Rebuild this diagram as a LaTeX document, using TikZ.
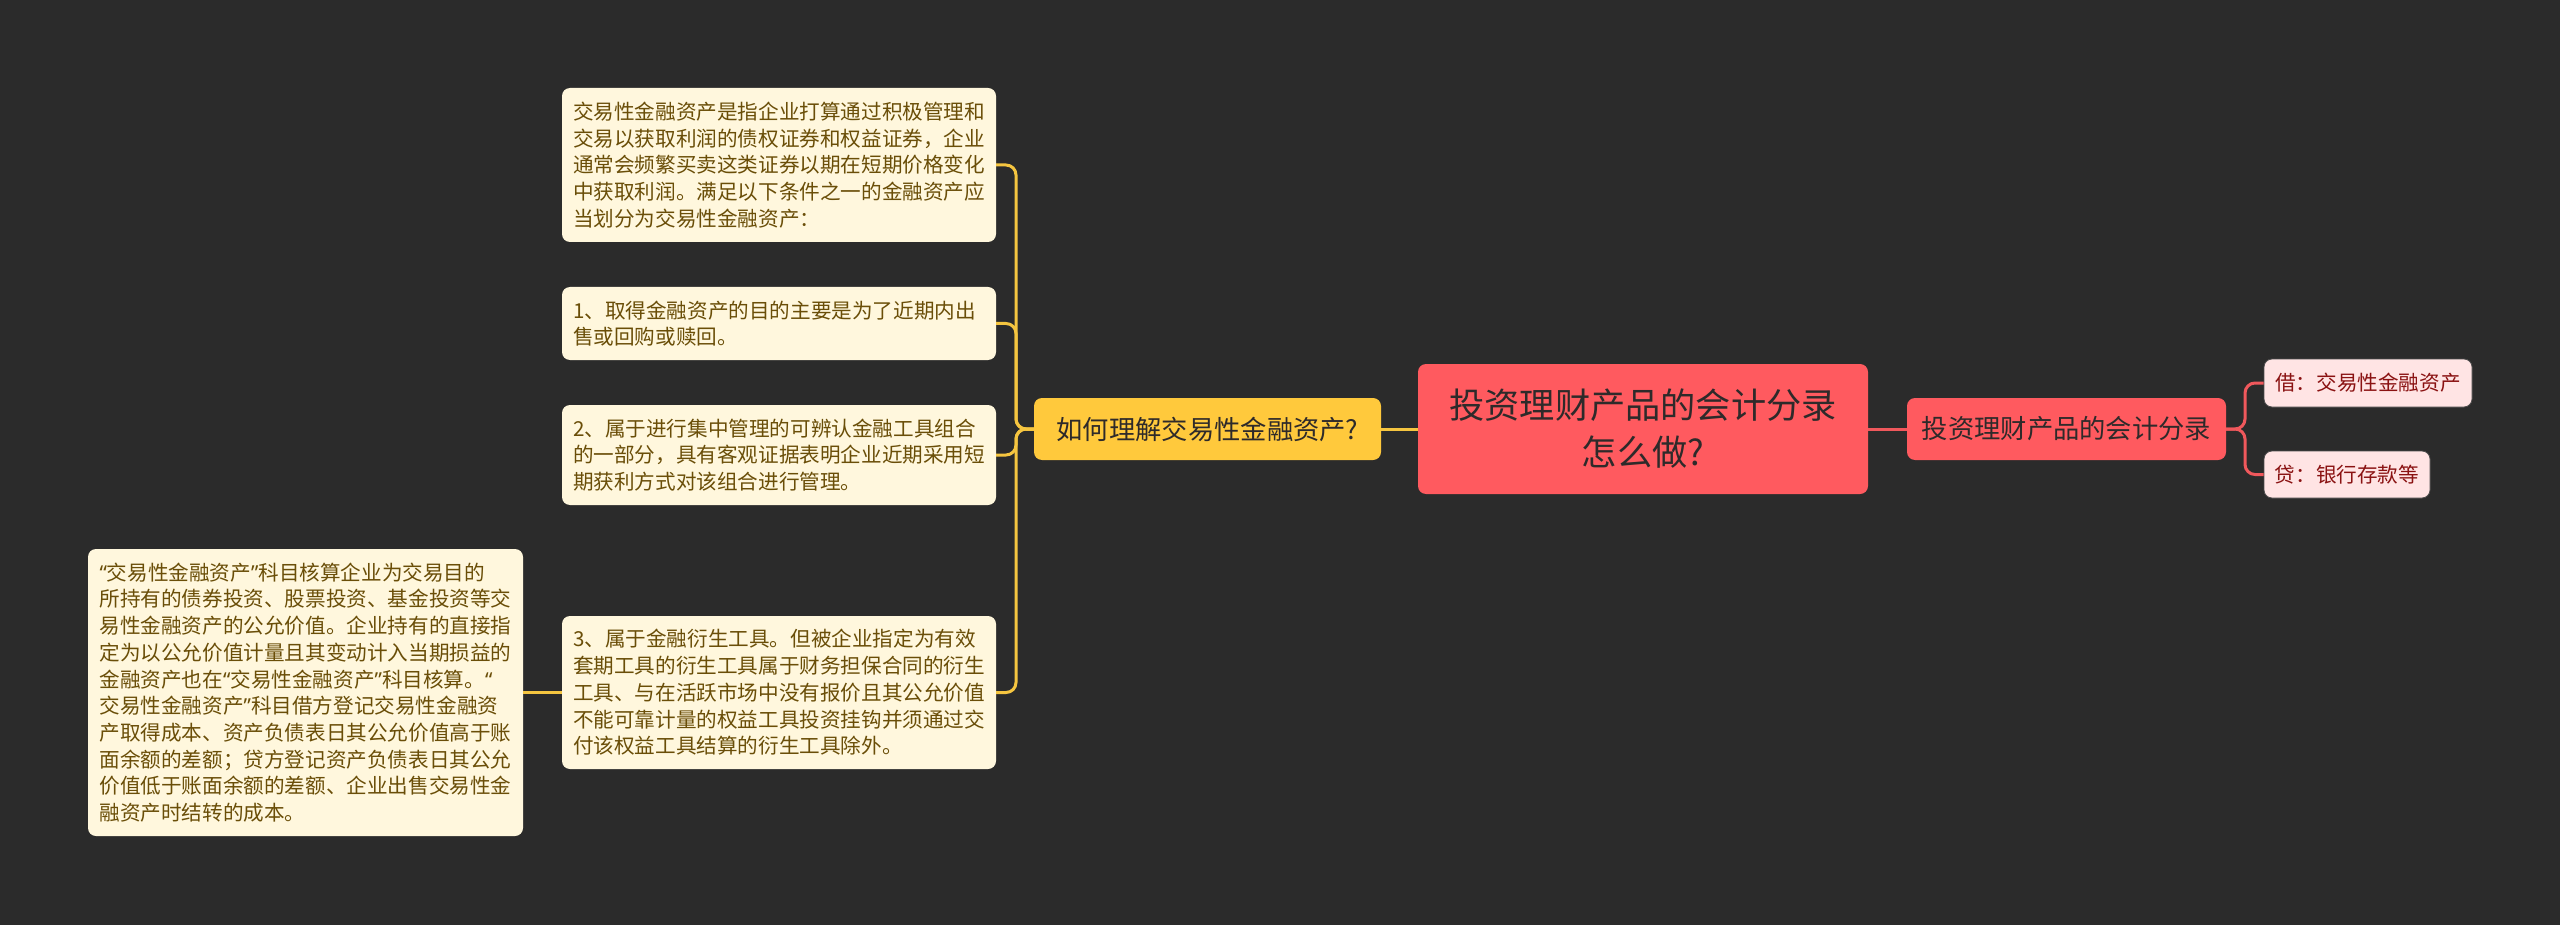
\documentclass[tikz,border=0pt]{standalone}
\usepackage{fontspec}
\newfontfamily\cjk{Noto Sans CJK SC}
\newfontfamily\latq{Noto Sans}
\newcommand{\myoq}{{\latq “}}
\newcommand{\mycq}{{\latq ”}}
\definecolor{bg}{HTML}{2B2B2B}
\definecolor{creamfill}{HTML}{FFF7DD}
\definecolor{creamtext}{HTML}{6A4E08}
\definecolor{yelfill}{HTML}{FFC93C}
\definecolor{yelline}{HTML}{F5C540}
\definecolor{redfill}{HTML}{FF5A5F}
\definecolor{redline}{HTML}{F0585C}
\definecolor{pinkfill}{HTML}{FFE4E4}
\definecolor{pinktext}{HTML}{8A1212}
\definecolor{darktext}{HTML}{2E2A2A}
\begin{document}
\begin{tikzpicture}[x=1pt,y=-1pt,
  cream/.style={fill=creamfill, text=creamtext, rounded corners=8pt,
    inner xsep=11pt, inner ysep=0pt, text width=412pt, align=left,
    font=\cjk\fontsize{20.6}{26.7}\selectfont, minimum width=434pt},
  yelbox/.style={fill=yelfill, text=darktext, rounded corners=8pt, inner sep=0pt,
    font=\cjk\fontsize{26.3}{32}\selectfont, minimum height=62pt},
  redbox/.style={fill=redfill, text=darktext, rounded corners=8pt, inner sep=0pt,
    align=center},
  pinkbox/.style={fill=pinkfill, text=pinktext, draw=black!70, line width=0.8pt,
    rounded corners=8pt, inner sep=0pt, font=\cjk\fontsize{20.6}{26}\selectfont,
    minimum height=47pt},
  yline/.style={draw=yelline, line width=3pt, rounded corners=10pt},
  rline/.style={draw=redline, line width=3pt, rounded corners=10pt}]
\useasboundingbox (0,0) rectangle (2560,925);
\fill[bg] (0,0) rectangle (2560,925);

% left column
\node[cream, minimum height=154pt] (A) at (779,165) {交易性金融资产是指企业打算通过积极管理和\\交易以获取利润的债权证券和权益证券，企业\\通常会频繁买卖这类证券以期在短期价格变化\\中获取利润。满足以下条件之一的金融资产应\\当划分为交易性金融资产：};
\node[cream, minimum height=73pt] (B1) at (779,323.5) {1、取得金融资产的目的主要是为了近期内出\\售或回购或赎回。};
\node[cream, minimum height=100pt] (B2) at (779,455) {2、属于进行集中管理的可辨认金融工具组合\\的一部分，具有客观证据表明企业近期采用短\\期获利方式对该组合进行管理。};
\node[cream, minimum height=153pt] (B3) at (779,692.5) {3、属于金融衍生工具。但被企业指定为有效\\套期工具的衍生工具属于财务担保合同的衍生\\工具、与在活跃市场中没有报价且其公允价值\\不能可靠计量的权益工具投资挂钩并须通过交\\付该权益工具结算的衍生工具除外。};
\node[cream, minimum width=435pt, minimum height=287pt] (N) at (305.5,692.5) {\myoq 交易性金融资产\mycq 科目核算企业为交易目的\\所持有的债券投资、股票投资、基金投资等交\\易性金融资产的公允价值。企业持有的直接指\\定为以公允价值计量且其变动计入当期损益的\\金融资产也在\myoq 交易性金融资产\mycq 科目核算。\myoq\\交易性金融资产\mycq 科目借方登记交易性金融资\\产取得成本、资产负债表日其公允价值高于账\\面余额的差额；贷方登记资产负债表日其公允\\价值低于账面余额的差额、企业出售交易性金\\融资产时结转的成本。};

% centre
\node[yelbox, minimum width=347pt] (Y) at (1207.5,429) {如何理解交易性金融资产?};
\node[redbox, minimum width=450pt, minimum height=130pt,
  font=\cjk\fontsize{35.2}{47}\selectfont] (R) at (1643,429) {投资理财产品的会计分录\\怎么做?};
\node[redbox, minimum width=319pt, minimum height=62pt,
  font=\cjk\fontsize{26.3}{32}\selectfont] (S) at (2066.5,429) {投资理财产品的会计分录};
\node[pinkbox, minimum width=208pt, minimum height=48pt] (D1) at (2368,383) {借：交易性金融资产};
\node[pinkbox, minimum width=166pt] (D2) at (2347,474.5) {贷：银行存款等};

\coordinate (yb) at (1016,429);
\coordinate (rb) at (2245,429);

% connectors
\draw[yline] (Y.west) -- (yb) |- (A.east);
\draw[yline] (Y.west) -- (yb) |- (B1.east);
\draw[yline] (Y.west) -- (yb) |- (B2.east);
\draw[yline] (Y.west) -- (yb) |- (B3.east);
\draw[yline] (B3.west) -- (N.east);
\draw[yline] (Y.east) -- (R.west);
\draw[rline] (R.east) -- (S.west);
\draw[rline] (S.east) -- (rb) |- (D1.west);
\draw[rline] (S.east) -- (rb) |- (D2.west);
\end{tikzpicture}
\end{document}
